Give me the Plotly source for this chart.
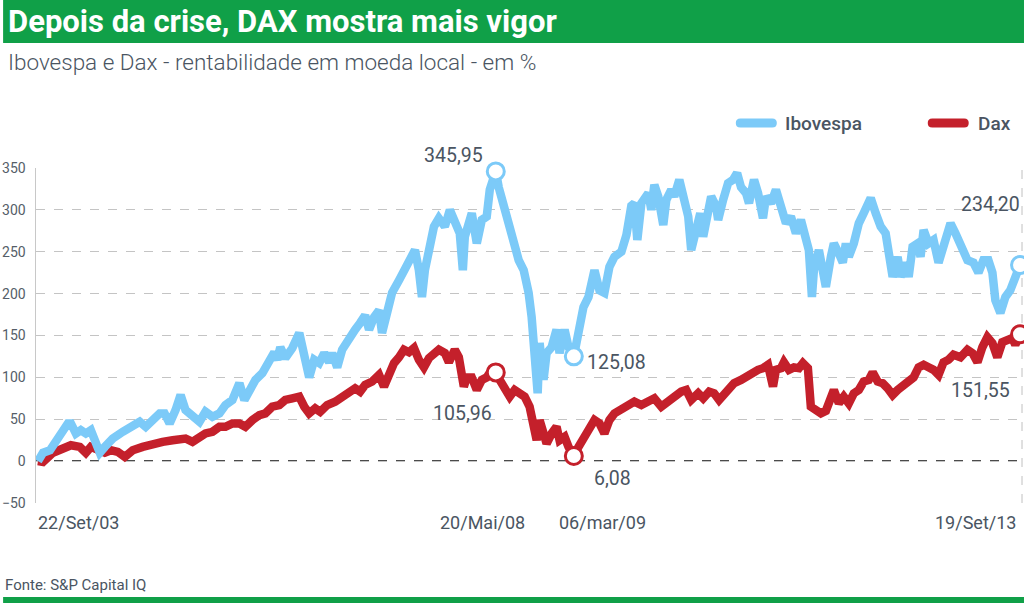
import plotly.graph_objects as go

# ---------------- data (decimal years, % return) ----------------
ibov_t = [2003.726, 2003.777, 2003.848, 2003.909, 2003.980, 2004.030, 2004.061, 2004.112, 2004.162, 2004.213,
          2004.264, 2004.314, 2004.355, 2004.406, 2004.487, 2004.588, 2004.690, 2004.761, 2004.822, 2004.893,
          2004.964, 2005.014, 2005.065, 2005.126, 2005.177, 2005.227, 2005.298, 2005.369, 2005.430, 2005.501,
          2005.572, 2005.633, 2005.704, 2005.755, 2005.775, 2005.826, 2005.877, 2005.938, 2006.009, 2006.080,
          2006.130, 2006.161, 2006.191, 2006.242, 2006.313, 2006.384, 2006.435, 2006.485, 2006.536, 2006.587,
          2006.638, 2006.688, 2006.719, 2006.770, 2006.820, 2006.891, 2006.952, 2007.003, 2007.054, 2007.094,
          2007.145, 2007.196, 2007.226, 2007.277, 2007.328, 2007.399, 2007.459, 2007.530, 2007.561, 2007.601,
          2007.632, 2007.662, 2007.713, 2007.754, 2007.804, 2007.865, 2007.916, 2007.966, 2008.017, 2008.048,
          2008.068, 2008.139, 2008.190, 2008.241, 2008.291, 2008.322, 2008.362, 2008.383, 2008.413, 2008.464,
          2008.514, 2008.565, 2008.616, 2008.667, 2008.717, 2008.748, 2008.778, 2008.809, 2008.829, 2008.869,
          2008.900, 2008.951, 2009.001, 2009.032, 2009.083, 2009.123, 2009.177, 2009.225, 2009.275, 2009.326,
          2009.387, 2009.438, 2009.488, 2009.539, 2009.590, 2009.661, 2009.712, 2009.762, 2009.793, 2009.823,
          2009.864, 2009.935, 2009.965, 2009.996, 2010.036, 2010.087, 2010.118, 2010.168, 2010.199, 2010.250,
          2010.300, 2010.341, 2010.371, 2010.422, 2010.463, 2010.493, 2010.544, 2010.574, 2010.625, 2010.645,
          2010.696, 2010.746, 2010.797, 2010.838, 2010.878, 2010.929, 2010.959, 2011.010, 2011.051, 2011.101,
          2011.132, 2011.183, 2011.233, 2011.284, 2011.335, 2011.385, 2011.436, 2011.487, 2011.538, 2011.568,
          2011.599, 2011.619, 2011.670, 2011.710, 2011.741, 2011.792, 2011.822, 2011.873, 2011.913, 2011.944,
          2011.974, 2012.025, 2012.076, 2012.126, 2012.197, 2012.248, 2012.299, 2012.349, 2012.380, 2012.420,
          2012.471, 2012.501, 2012.552, 2012.583, 2012.623, 2012.674, 2012.704, 2012.735, 2012.785, 2012.836,
          2012.887, 2012.938, 2013.009, 2013.059, 2013.110, 2013.181, 2013.242, 2013.293, 2013.343, 2013.394,
          2013.435, 2013.465, 2013.516, 2013.567, 2013.617, 2013.668, 2013.716]
ibov_v = [0, 10, 13, 23, 33, 45, 45, 33, 37, 33,
          37, 23, 10, 17, 27, 35, 41, 47, 41, 49,
          57, 57, 45, 61, 79, 61, 53, 47, 59, 53,
          57, 67, 73, 88, 93, 73, 85, 97, 105, 121,
          130, 121, 136, 123, 135, 153, 124, 100, 121, 117,
          129, 118, 129, 112, 133, 148, 157, 165, 174, 157,
          172, 180, 153, 177, 201, 216, 228, 244, 252, 228,
          196, 228, 260, 280, 290, 280, 300, 284, 272, 228,
          268, 296, 260, 288, 292, 324, 336, 345.95, 327, 304,
          280, 256, 240, 228, 201, 172, 133, 81, 141, 97,
          129, 136, 157, 129, 157, 136, 125.08, 153, 184, 196,
          228, 204, 201, 232, 244, 250, 270, 305, 308, 264,
          308, 320, 300, 330, 316, 282, 312, 324, 316, 336,
          316, 292, 252, 284, 296, 268, 292, 316, 304, 288,
          312, 332, 336, 344, 327, 320, 308, 336, 320, 290,
          316, 308, 324, 300, 284, 292, 272, 288, 264, 252,
          196, 228, 252, 228, 208, 244, 260, 248, 237, 260,
          244, 260, 284, 296, 314, 296, 280, 272, 244, 220,
          244, 220, 237, 220, 256, 260, 244, 276, 260, 264,
          237, 260, 284, 272, 256, 240, 237, 225, 240, 240,
          225, 192, 177, 196, 204, 220, 234.20]

dax_t = [2003.726, 2003.777, 2003.878, 2003.980, 2004.061, 2004.152, 2004.213, 2004.264, 2004.335, 2004.406,
         2004.467, 2004.538, 2004.609, 2004.690, 2004.791, 2004.893, 2004.994, 2005.096, 2005.167, 2005.227,
         2005.298, 2005.369, 2005.430, 2005.501, 2005.572, 2005.633, 2005.704, 2005.775, 2005.836, 2005.907,
         2005.978, 2006.039, 2006.110, 2006.181, 2006.242, 2006.313, 2006.384, 2006.435, 2006.485, 2006.546,
         2006.597, 2006.668, 2006.749, 2006.851, 2006.952, 2007.003, 2007.054, 2007.125, 2007.196, 2007.246,
         2007.297, 2007.348, 2007.399, 2007.449, 2007.500, 2007.551, 2007.601, 2007.652, 2007.703, 2007.764,
         2007.804, 2007.865, 2007.906, 2007.966, 2008.007, 2008.058, 2008.088, 2008.139, 2008.190, 2008.241,
         2008.291, 2008.342, 2008.383, 2008.423, 2008.474, 2008.525, 2008.575, 2008.626, 2008.677, 2008.727,
         2008.768, 2008.799, 2008.829, 2008.869, 2008.900, 2008.951, 2009.001, 2009.032, 2009.083, 2009.123,
         2009.154, 2009.177, 2009.225, 2009.275, 2009.326, 2009.387, 2009.438, 2009.488, 2009.539, 2009.590,
         2009.661, 2009.732, 2009.793, 2009.864, 2009.935, 2009.996, 2010.067, 2010.138, 2010.199, 2010.270,
         2010.320, 2010.371, 2010.442, 2010.493, 2010.554, 2010.604, 2010.655, 2010.706, 2010.756, 2010.807,
         2010.878, 2010.949, 2011.000, 2011.051, 2011.101, 2011.152, 2011.203, 2011.233, 2011.284, 2011.314,
         2011.365, 2011.416, 2011.467, 2011.507, 2011.558, 2011.588, 2011.639, 2011.690, 2011.741, 2011.792,
         2011.822, 2011.873, 2011.923, 2011.974, 2012.025, 2012.076, 2012.126, 2012.177, 2012.217, 2012.268,
         2012.319, 2012.369, 2012.420, 2012.471, 2012.532, 2012.583, 2012.633, 2012.684, 2012.735, 2012.785,
         2012.836, 2012.887, 2012.938, 2012.988, 2013.039, 2013.110, 2013.181, 2013.232, 2013.283, 2013.333,
         2013.384, 2013.435, 2013.485, 2013.536, 2013.587, 2013.638, 2013.668, 2013.716]
dax_v = [0, -1, 10, 16, 19, 17, 10, 17, 13, 10,
         13, 11, 5, 13, 17, 21, 23, 25, 27, 27,
         23, 29, 33, 35, 41, 41, 45, 45, 41, 49,
         55, 57, 65, 67, 73, 75, 77, 65, 57, 63,
         59, 67, 71, 79, 87, 83, 91, 95, 103, 89,
         105, 117, 124, 133, 130, 135, 121, 112, 123, 129,
         133, 129, 118, 133, 124, 89, 100, 100, 85, 97,
         100, 109, 105.96, 97, 89, 77, 85, 81, 77, 65,
         37, 25, 49, 29, 21, 33, 41, 25, 29, 17,
         10, 6.08, 17, 29, 37, 49, 45, 33, 49, 57,
         62, 65, 71, 67, 71, 75, 65, 71, 79, 83,
         85, 73, 81, 75, 83, 81, 73, 81, 85, 93,
         97, 103, 105, 109, 111, 115, 89, 109, 111, 118,
         109, 112, 111, 117, 111, 65, 61, 57, 60, 73,
         85, 69, 77, 69, 81, 85, 95, 97, 106, 95,
         93, 87, 79, 85, 91, 97, 100, 112, 115, 112,
         109, 103, 118, 121, 127, 124, 133, 129, 118, 136,
         148, 141, 124, 142, 145, 147, 139, 151.55]

# highlighted points
ibov_hi_t = [2008.383, 2009.177, 2013.716]
ibov_hi_v = [345.95, 125.08, 234.20]
dax_hi_t = [2008.383, 2009.177, 2013.716]
dax_hi_v = [105.96, 6.08, 151.55]

# axis labels
x_label_t = [2003.726, 2008.383, 2009.177, 2013.716]
x_label_text = ["22/Set/03", "20/Mai/08", "06/mar/09", "19/Set/13"]
y_tick_vals = [-50, 0, 50, 100, 150, 200, 250, 300, 350]

series_names = ["Ibovespa", "Dax"]

# ---------------- styling ----------------
BLUE = "#7ccaf8"
RED = "#c4202b"
GREEN = "#10a048"
TXT = "#4a5562"
FONT = "Roboto"

W, H = 1024, 603
ML, MR, MT, MB = 33, 2, 168, 100
PW, PH = W - ML - MR, H - MT - MB


def px(x):
    return (x - ML) / PW


def py(y):
    return (H - MB - y) / PH


fig = go.Figure()
fig.add_trace(go.Scatter(x=dax_t, y=dax_v, mode="lines", name=series_names[1],
                         line=dict(color=RED, width=8.5), showlegend=False, hoverinfo="skip"))
fig.add_trace(go.Scatter(x=ibov_t, y=ibov_v, mode="lines", name=series_names[0],
                         line=dict(color=BLUE, width=8.5), showlegend=False, hoverinfo="skip"))
fig.add_trace(go.Scatter(x=ibov_hi_t, y=ibov_hi_v, mode="markers", showlegend=False, hoverinfo="skip",
                         cliponaxis=False,
                         marker=dict(symbol="circle", size=17, color="white",
                                     line=dict(color=BLUE, width=3))))
fig.add_trace(go.Scatter(x=dax_hi_t, y=dax_hi_v, mode="markers", showlegend=False, hoverinfo="skip",
                         cliponaxis=False,
                         marker=dict(symbol="circle", size=17, color="white",
                                     line=dict(color=RED, width=3))))

annotations = []


def fmt(v):
    return f"{v:.2f}".replace(".", ",")


# value labels: (xanchor, xshift, yshift)
ibov_lab_style = [("right", -11, 16), ("left", 11, -6), ("right", 2, 60)]
dax_lab_style = [("right", -2, -41), ("left", 18, -22), ("right", -8, -56)]
for t, v, (xa, xs, ys) in zip(ibov_hi_t, ibov_hi_v, ibov_lab_style):
    annotations.append(dict(x=t, y=v, xref="x", yref="y", text=fmt(v), showarrow=False,
                            xanchor=xa, yanchor="middle", xshift=xs, yshift=ys,
                            font=dict(family=FONT, size=19.5, color=TXT)))
for t, v, (xa, xs, ys) in zip(dax_hi_t, dax_hi_v, dax_lab_style):
    annotations.append(dict(x=t, y=v, xref="x", yref="y", text=fmt(v), showarrow=False,
                            xanchor=xa, yanchor="middle", xshift=xs, yshift=ys,
                            font=dict(family=FONT, size=19.5, color=TXT)))

# x labels
x_lab_style = [("left", -2), ("center", -13), ("center", 29), ("right", -2)]
for t, txt, (xa, xs) in zip(x_label_t, x_label_text, x_lab_style):
    annotations.append(dict(x=t, y=0, xref="x", yref="paper", text=txt, showarrow=False,
                            xanchor=xa, yanchor="middle", xshift=xs, yshift=-19,
                            font=dict(family=FONT, size=18, color=TXT)))

# title, subtitle, footer
annotations.append(dict(x=px(3), y=py(22), xref="paper", yref="paper",
                        text="<b>Depois da crise, DAX mostra mais vigor</b>", showarrow=False,
                        xanchor="left", yanchor="middle",
                        font=dict(family=FONT, size=31, color="white")))
annotations.append(dict(x=px(3), y=py(62), xref="paper", yref="paper",
                        text="Ibovespa e Dax - rentabilidade em moeda local - em %", showarrow=False,
                        xanchor="left", yanchor="middle",
                        font=dict(family=FONT, size=22.5, color=TXT, weight=300)))
annotations.append(dict(x=px(0), y=py(585), xref="paper", yref="paper",
                        text="Fonte: S&amp;P Capital IQ", showarrow=False,
                        xanchor="left", yanchor="middle",
                        font=dict(family=FONT, size=15, color=TXT)))

# legend texts
annotations.append(dict(x=px(782), y=py(123), xref="paper", yref="paper", text=series_names[0],
                        showarrow=False, xanchor="left", yanchor="middle",
                        font=dict(family=FONT, size=19, color=TXT, weight=500)))
annotations.append(dict(x=px(976), y=py(123), xref="paper", yref="paper", text=series_names[1],
                        showarrow=False, xanchor="left", yanchor="middle",
                        font=dict(family=FONT, size=19, color=TXT, weight=500)))

shapes = []
# title bar and bottom bar
shapes.append(dict(type="rect", xref="paper", yref="paper", x0=px(0), x1=px(W), y0=py(43), y1=py(0),
                   fillcolor=GREEN, line=dict(width=0), layer="below"))
shapes.append(dict(type="rect", xref="paper", yref="paper", x0=px(0), x1=px(W), y0=py(H), y1=py(597),
                   fillcolor=GREEN, line=dict(width=0), layer="below"))
# zero line (above grid, below traces)
shapes.append(dict(type="line", xref="paper", yref="y", x0=0, x1=1, y0=0, y1=0,
                   line=dict(color="#111111", width=1.6, dash="dash"), layer="between"))
# right border dashed
shapes.append(dict(type="line", xref="paper", yref="paper", x0=1, x1=1, y0=0, y1=1,
                   line=dict(color="#c0c0c0", width=1, dash="dash"), layer="below"))
# legend line symbols (rounded)
cap = "M -16,-4.5 L 16,-4.5 Q 20.5,-4.5 20.5,0 Q 20.5,4.5 16,4.5 L -16,4.5 Q -20.5,4.5 -20.5,0 Q -20.5,-4.5 -16,-4.5 Z"
for cx, col in [(755.5, BLUE), (948, RED)]:
    shapes.append(dict(type="path", xref="paper", yref="paper", xsizemode="pixel", ysizemode="pixel",
                       xanchor=px(cx), yanchor=py(123), path=cap, fillcolor=col, line=dict(width=0)))

fig.update_layout(
    width=W, height=H,
    margin=dict(l=ML, r=MR, t=MT, b=MB, pad=0),
    paper_bgcolor="white", plot_bgcolor="white",
    showlegend=False,
    hovermode=False,
    xaxis=dict(range=[2003.706, 2013.736], showgrid=False, zeroline=False, showline=False,
               showticklabels=False, ticks=""),
    yaxis=dict(range=[-50, 350], tickvals=y_tick_vals, showgrid=True, gridcolor="#c4c4c4",
               griddash="dash", gridwidth=1, zeroline=False, showline=True, linecolor="#c8c8c8",
               linewidth=1.5, ticks="", ticklabelstandoff=6,
               tickfont=dict(family=FONT, size=14, color="#555e68")),
    annotations=annotations,
    shapes=shapes,
)

fig.write_html("out.html", config=dict(displayModeBar=False, staticPlot=True),
               post_script="document.body.style.margin='0';document.body.style.overflow='hidden';")
